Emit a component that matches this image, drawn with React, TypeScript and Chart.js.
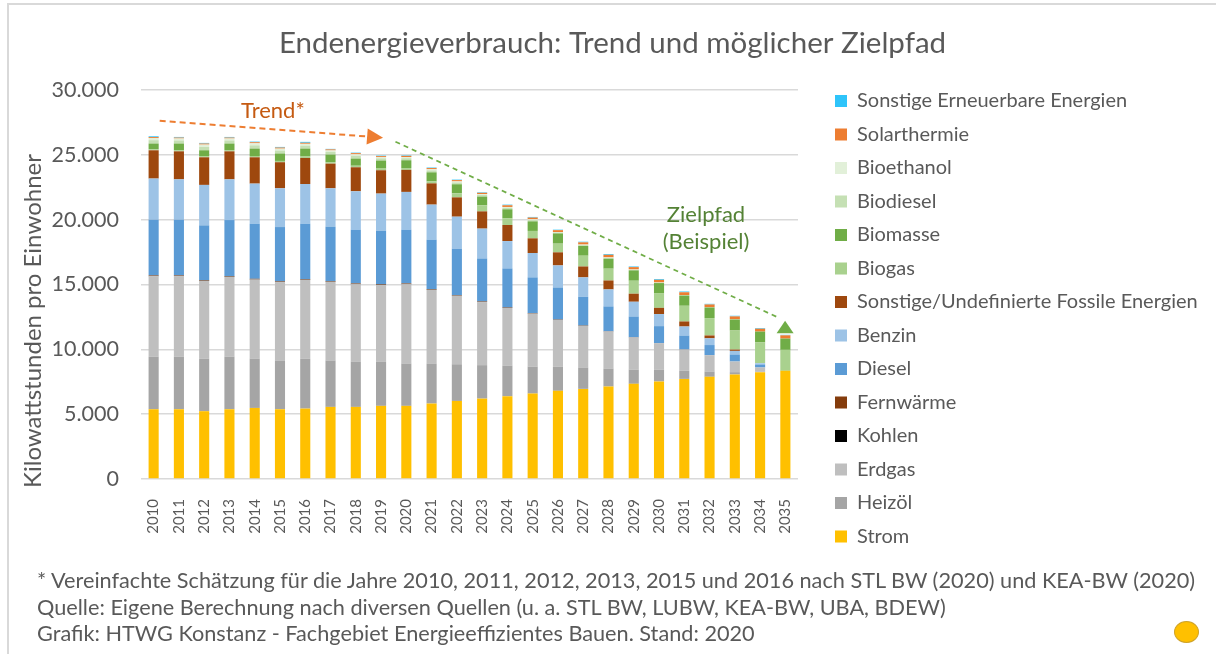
import React, { useEffect, useRef } from 'react';
import { Chart, registerables } from 'chart.js';

Chart.register(...registerables);

const FONT = 'Lato, "Open Sans", sans-serif';
const TEXT = '#595959';

// ---------- data ----------
const years = ['2010', '2011', '2012', '2013', '2014', '2015', '2016', '2017', '2018', '2019', '2020', '2021', '2022', '2023', '2024', '2025', '2026', '2027', '2028', '2029', '2030', '2031', '2032', '2033', '2034', '2035'];

const strom = [5380, 5380, 5230, 5380, 5480, 5380, 5430, 5560, 5560, 5640, 5640, 5820, 6020, 6200, 6380, 6590, 6800, 6950, 7130, 7340, 7520, 7720, 7880, 8060, 8240, 8340];
const heizoel = [4060, 4060, 4040, 4060, 3810, 3760, 3840, 3580, 3500, 3420, 3270, 3090, 2830, 2580, 2370, 2080, 1850, 1650, 1390, 1100, 920, 640, 410, 180, 40, 0];
const erdgas = [6200, 6200, 6010, 6150, 6090, 6040, 6090, 6070, 5960, 5910, 6110, 5680, 5280, 4860, 4440, 4080, 3620, 3210, 2850, 2470, 2030, 1620, 1260, 820, 320, 0];
const kohlen = [20, 20, 20, 20, 20, 20, 20, 20, 20, 20, 20, 20, 15, 15, 10, 10, 10, 10, 5, 5, 5, 5, 0, 0, 0, 0];
const fernwaerme = [40, 40, 40, 40, 40, 40, 40, 40, 40, 40, 40, 40, 35, 35, 30, 30, 20, 20, 15, 15, 5, 5, 0, 0, 0, 0];
const diesel = [4300, 4300, 4220, 4320, 4250, 4190, 4270, 4190, 4150, 4120, 4150, 3810, 3580, 3320, 3010, 2760, 2470, 2210, 1920, 1600, 1310, 1070, 780, 540, 230, 0];
const benzin = [3170, 3110, 3120, 3140, 3090, 2990, 3060, 2960, 2960, 2860, 2910, 2700, 2470, 2300, 2110, 1880, 1700, 1500, 1310, 1140, 930, 700, 520, 280, 100, 0];
const sonstigeFossile = [2180, 2160, 2130, 2160, 2030, 2010, 2010, 1900, 1850, 1800, 1700, 1640, 1490, 1330, 1240, 1130, 1010, 840, 690, 620, 480, 390, 220, 100, 0, 0];
const biogas = [80, 80, 90, 90, 100, 100, 110, 110, 120, 130, 140, 150, 310, 460, 510, 570, 670, 830, 910, 1000, 1140, 1210, 1340, 1470, 1600, 1620];
const biomasse = [440, 520, 450, 510, 570, 570, 610, 590, 550, 620, 600, 700, 700, 680, 700, 740, 790, 750, 770, 800, 770, 790, 820, 850, 840, 870];
const biodiesel = [260, 240, 260, 240, 250, 230, 230, 200, 210, 170, 160, 150, 140, 120, 110, 100, 70, 70, 60, 40, 30, 20, 10, 10, 0, 0];
const bioethanol = [170, 150, 180, 150, 160, 150, 140, 120, 120, 90, 90, 90, 80, 70, 70, 60, 40, 40, 40, 30, 20, 20, 10, 10, 0, 0];
const solarthermie = [70, 70, 80, 70, 80, 80, 80, 80, 90, 80, 90, 90, 100, 100, 130, 130, 140, 170, 200, 180, 200, 210, 210, 220, 220, 250];
const sonstigeEE = [60, 50, 50, 50, 50, 50, 70, 40, 40, 40, 40, 40, 40, 40, 50, 50, 40, 50, 60, 50, 60, 60, 50, 50, 50, 40];

const yTicks = [0, 5000, 10000, 15000, 20000, 25000, 30000];

// annotation anchors in data space: [category index, kWh]
const trendArrow = [[0.24, 27630], [9.08, 26320]];
const zielArrow = [[9.57, 26010], [24.99, 12210]];
const trendLabel = { x: 4.72, y: 27860, text: 'Trend*' };
const zielLabels = [
  { x: 21.86, y: 19800, text: 'Zielpfad' },
  { x: 21.86, y: 17740, text: '(Beispiel)' },
];

const titleText = 'Endenergieverbrauch: Trend und möglicher Zielpfad';
const yTitleText = 'Kilowattstunden pro Einwohner';
const footnotes = [
  '* Vereinfachte Schätzung für die Jahre 2010, 2011, 2012, 2013, 2015 und 2016 nach STL BW (2020) und KEA-BW (2020)',
  'Quelle: Eigene Berechnung nach diversen Quellen (u. a. STL BW, LUBW, KEA-BW, UBA, BDEW)',
  'Grafik: HTWG Konstanz - Fachgebiet Energieeffizientes Bauen. Stand: 2020',
];

const series = [
  { label: 'Strom', data: strom, color: '#FFC000' },
  { label: 'Heizöl', data: heizoel, color: '#A5A5A5' },
  { label: 'Erdgas', data: erdgas, color: '#BFBFBF' },
  { label: 'Kohlen', data: kohlen, color: '#000000' },
  { label: 'Fernwärme', data: fernwaerme, color: '#843C0C' },
  { label: 'Diesel', data: diesel, color: '#5B9BD5' },
  { label: 'Benzin', data: benzin, color: '#9DC3E6' },
  { label: 'Sonstige/Undefinierte Fossile Energien', data: sonstigeFossile, color: '#9E480E' },
  { label: 'Biogas', data: biogas, color: '#A9D18E' },
  { label: 'Biomasse', data: biomasse, color: '#70AD47' },
  { label: 'Biodiesel', data: biodiesel, color: '#C5E0B4' },
  { label: 'Bioethanol', data: bioethanol, color: '#E2F0D9' },
  { label: 'Solarthermie', data: solarthermie, color: '#ED7D31' },
  { label: 'Sonstige Erneuerbare Energien', data: sonstigeEE, color: '#2EC4FA' },
];

const fmt = (v: number) => String(v).replace(/\B(?=(\d{3})+(?!\d))/g, '.');

const W = 1216;
const H = 654;

const annotationPlugin = {
  id: 'annotations',
  afterDraw(chart: any) {
    const { ctx, chartArea, scales } = chart;
    const xs = scales.x;
    const ys = scales.y;
    const px = (p: number[]) => [xs.getPixelForValue(p[0]), ys.getPixelForValue(p[1])];
    ctx.save();

    // y axis title
    ctx.save();
    ctx.translate(chartArea.left - 108, (chartArea.top + chartArea.bottom) / 2 + 36.5);
    ctx.rotate(-Math.PI / 2);
    ctx.font = `24px ${FONT}`;
    ctx.fillStyle = TEXT;
    ctx.textAlign = 'center';
    ctx.textBaseline = 'middle';
    ctx.fillText(yTitleText, 0, 0);
    ctx.restore();

    // trend arrow (orange)
    {
      const [x0, y0] = px(trendArrow[0]);
      const [x1, y1] = px(trendArrow[1]);
      const len = Math.hypot(x1 - x0, y1 - y0);
      const ux = (x1 - x0) / len;
      const uy = (y1 - y0) / len;
      const head = 16;
      const bx = x1 - ux * head;
      const by = y1 - uy * head;
      ctx.strokeStyle = '#ED7D31';
      ctx.lineWidth = 2;
      ctx.setLineDash([6, 4]);
      ctx.beginPath();
      ctx.moveTo(x0, y0);
      ctx.lineTo(bx, by);
      ctx.stroke();
      ctx.setLineDash([]);
      ctx.fillStyle = '#ED7D31';
      ctx.beginPath();
      ctx.moveTo(x1, y1);
      ctx.lineTo(bx - uy * 8, by + ux * 8);
      ctx.lineTo(bx + uy * 8, by - ux * 8);
      ctx.closePath();
      ctx.fill();
    }

    // target path (green)
    {
      const [x0, y0] = px(zielArrow[0]);
      const [x1, y1] = px(zielArrow[1]);
      const len = Math.hypot(x1 - x0, y1 - y0);
      const ux = (x1 - x0) / len;
      const uy = (y1 - y0) / len;
      ctx.strokeStyle = '#70AD47';
      ctx.lineWidth = 1.75;
      ctx.setLineDash([5, 4]);
      ctx.beginPath();
      ctx.moveTo(x0, y0);
      ctx.lineTo(x1 - ux * 9, y1 - uy * 9);
      ctx.stroke();
      ctx.setLineDash([]);
      ctx.fillStyle = '#70AD47';
      ctx.beginPath();
      ctx.moveTo(x1, y1);
      ctx.lineTo(x1 + 8.5, y1 + 12.6);
      ctx.lineTo(x1 - 8.5, y1 + 12.6);
      ctx.closePath();
      ctx.fill();
    }

    // labels
    ctx.font = `22px ${FONT}`;
    ctx.textAlign = 'center';
    ctx.textBaseline = 'alphabetic';
    ctx.fillStyle = '#C55A11';
    {
      const [x, y] = px([trendLabel.x, trendLabel.y]);
      ctx.fillText(trendLabel.text, x, y);
    }
    ctx.fillStyle = '#548235';
    zielLabels.forEach((l) => {
      const [x, y] = px([l.x, l.y]);
      ctx.fillText(l.text, x, y);
    });
    ctx.restore();
  },
};

function ChartView() {
  const ref = useRef<HTMLCanvasElement | null>(null);
  useEffect(() => {
    const canvas = ref.current!;
    const mctx = canvas.getContext('2d')!;
    const legendFont = 20;
    const legendPad = 13.5;
    mctx.font = `${legendFont}px ${FONT}`;
    const maxW = Math.max(...series.map((s) => mctx.measureText(s.label).width));
    const legendLeft = 821.5;
    const plotLeft = 141;
    const plotRight = 798;
    const legendWidth = legendPad + 12 + legendFont / 2 + maxW + 10;
    const padRight = W - legendLeft - legendWidth;
    const padLeft = 9 + padRight;

    const chart = new Chart(canvas, {
      type: 'bar',
      data: {
        labels: years,
        datasets: series.map((s) => ({
          label: s.label,
          data: s.data,
          backgroundColor: s.color,
          borderWidth: 0,
          barPercentage: 0.4,
          categoryPercentage: 1,
        })),
      },
      options: {
        responsive: false,
        animation: false,
        layout: { padding: { left: padLeft, right: padRight, top: 0, bottom: 16.5 } },
        plugins: {
          title: {
            display: true,
            text: titleText,
            color: TEXT,
            font: { family: FONT, size: 29.5, weight: 'normal' },
            padding: { top: 25.3, bottom: 29.3 },
          },
          legend: {
            position: 'right',
            reverse: true,
            maxWidth: 1000,
            labels: {
              color: TEXT,
              font: { family: FONT, size: legendFont },
              boxWidth: 12,
              boxHeight: 12,
              padding: legendPad,
            },
          },
          tooltip: { enabled: false },
        },
        scales: {
          x: {
            stacked: true,
            grid: { display: false },
            border: { display: false },
            ticks: {
              color: TEXT,
              font: { family: FONT, size: 15 },
              minRotation: 90,
              maxRotation: 90,
              padding: 12,
              autoSkip: false,
            },
            afterFit: (s: any) => {
              s.height = H - 16.5 - 479;
            },
          },
          y: {
            stacked: true,
            min: 0,
            max: 30000,
            afterBuildTicks: (s: any) => {
              s.ticks = yTicks.map((v) => ({ value: v }));
            },
            ticks: {
              color: TEXT,
              font: { family: FONT, size: 21.5 },
              padding: 22,
              callback: (v: any) => fmt(Number(v)),
            },
            grid: { color: '#d9d9d9', lineWidth: 1.5, drawTicks: false },
            border: { display: false },
            afterFit: (s: any) => {
              s.width = plotLeft - padLeft;
            },
          },
          spacer: {
            type: 'linear',
            position: 'right',
            display: true,
            grid: { display: false },
            border: { display: false },
            ticks: { display: false },
            afterFit: (s: any) => {
              s.width = legendLeft - plotRight;
            },
          },
        },
      } as any,
      plugins: [annotationPlugin],
    });
    return () => chart.destroy();
  }, []);
  return <canvas ref={ref} width={W} height={H} style={{ display: 'block', position: 'absolute', left: 0, top: 0 }} />;
}

export default function App() {
  return (
    <div style={{ position: 'absolute', left: 0, top: 0, width: W, height: H, overflow: 'hidden', background: '#fff' }}>
      <div style={{ position: 'absolute', left: 7, top: 3, width: 1400, height: 900, border: '2px solid #d9d9d9', boxSizing: 'border-box' }} />
      <ChartView />
      <div
        style={{
          position: 'absolute',
          left: 37,
          top: 567,
          fontFamily: FONT,
          fontSize: 21.7,
          lineHeight: '26.5px',
          color: TEXT,
          whiteSpace: 'nowrap',
        }}
      >
        {footnotes.map((t, i) => (
          <div key={i}>{t}</div>
        ))}
      </div>
      <div
        style={{
          position: 'absolute',
          left: 1174,
          top: 621,
          width: 25,
          height: 22,
          borderRadius: '50%',
          background: '#FFC000',
          border: '1.5px solid #CFA32A',
          boxSizing: 'border-box',
        }}
      />
    </div>
  );
}
